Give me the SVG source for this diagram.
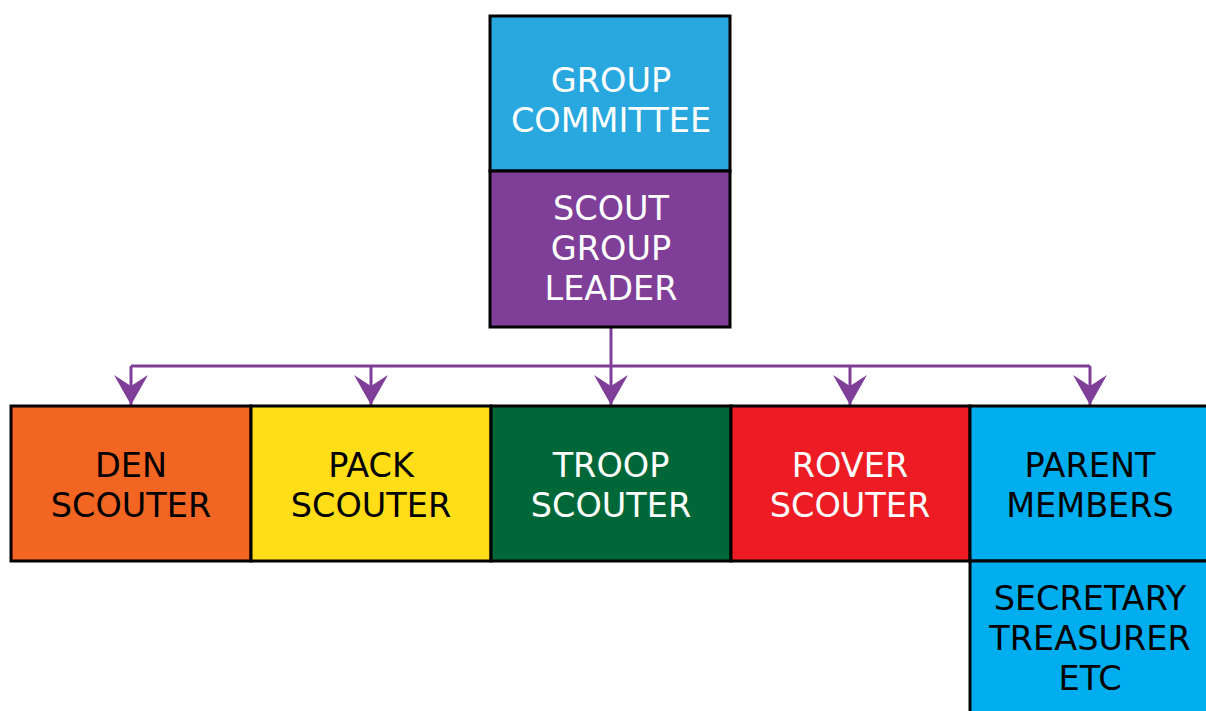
<svg xmlns="http://www.w3.org/2000/svg" width="1206" height="711" viewBox="0 0 1206 711">
<style>
.box{stroke:#000;stroke-width:3}
.t{font-family:"DejaVu Sans",Verdana,sans-serif;font-size:33.5px;text-anchor:middle}
.w{fill:#fff}
.k{fill:#000}
.c{fill:none;stroke:#7f3f98;stroke-width:3}
</style>
<defs>
<marker id="ah" markerUnits="userSpaceOnUse" markerWidth="34" markerHeight="36" viewBox="-32 -18 34 36" refX="0" refY="0" orient="auto">
<path d="M0,0 L-30,-17 L-19,0 L-30,17 Z" fill="#7f3f98"/>
</marker>
</defs>
<g id="connectors">
<path class="c" d="M611,327 V366"/>
<path class="c" d="M131,366 H1090"/>
<path class="c" d="M131,366 V405" marker-end="url(#ah)"/>
<path class="c" d="M371,366 V405" marker-end="url(#ah)"/>
<path class="c" d="M611,366 V405" marker-end="url(#ah)"/>
<path class="c" d="M850,366 V405" marker-end="url(#ah)"/>
<path class="c" d="M1090,366 V405" marker-end="url(#ah)"/>
</g>
<g id="group-committee">
<rect class="box" x="490" y="16" width="240" height="155" fill="#29a8e0"/>
<text class="t w" x="611" y="92">GROUP</text>
<text class="t w" x="611" y="132">COMMITTEE</text>
</g>
<g id="scout-group-leader">
<rect class="box" x="490" y="171" width="240" height="156" fill="#7f3f98"/>
<text class="t w" x="611" y="220">SCOUT</text>
<text class="t w" x="611" y="260">GROUP</text>
<text class="t w" x="611" y="300">LEADER</text>
</g>
<g id="den-scouter">
<rect class="box" x="11" y="406" width="240" height="155" fill="#f26522"/>
<text class="t k" x="131" y="477">DEN</text>
<text class="t k" x="131" y="517">SCOUTER</text>
</g>
<g id="pack-scouter">
<rect class="box" x="251" y="406" width="240" height="155" fill="#ffde17"/>
<text class="t k" x="371" y="477">PACK</text>
<text class="t k" x="371" y="517">SCOUTER</text>
</g>
<g id="troop-scouter">
<rect class="box" x="491" y="406" width="240" height="155" fill="#006838"/>
<text class="t w" x="611" y="477">TROOP</text>
<text class="t w" x="611" y="517">SCOUTER</text>
</g>
<g id="rover-scouter">
<rect class="box" x="731" y="406" width="239" height="155" fill="#ed1c24"/>
<text class="t w" x="850" y="477">ROVER</text>
<text class="t w" x="850" y="517">SCOUTER</text>
</g>
<g id="parent-members">
<rect class="box" x="970" y="406" width="240" height="155" fill="#00aeef"/>
<text class="t k" x="1090" y="477">PARENT</text>
<text class="t k" x="1090" y="517">MEMBERS</text>
</g>
<g id="secretary-treasurer">
<rect class="box" x="970" y="561" width="240" height="160" fill="#00aeef"/>
<text class="t k" x="1090" y="610">SECRETARY</text>
<text class="t k" x="1090" y="650">TREASURER</text>
<text class="t k" x="1090" y="690">ETC</text>
</g>
</svg>
